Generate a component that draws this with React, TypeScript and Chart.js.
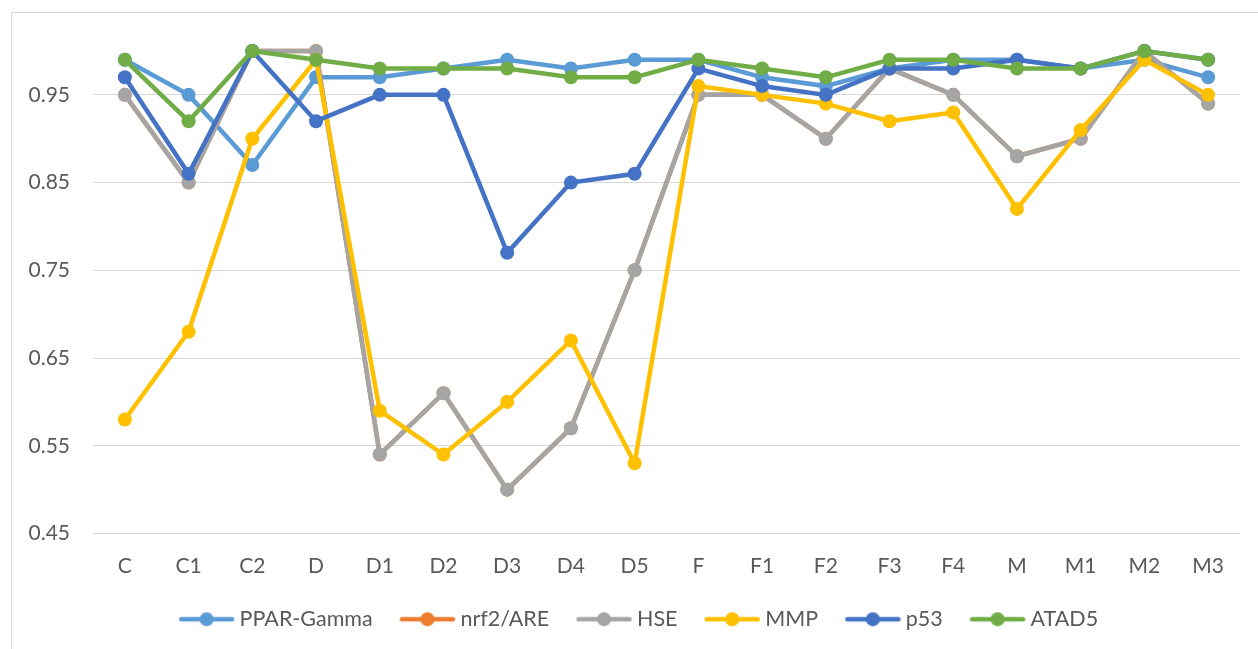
import React, { useEffect, useRef } from "react";
import { Chart, registerables } from "chart.js";

Chart.register(...registerables);

const categories = ["C", "C1", "C2", "D", "D1", "D2", "D3", "D4", "D5", "F", "F1", "F2", "F3", "F4", "M", "M1", "M2", "M3"];
const pparGamma = [0.99, 0.95, 0.87, 0.97, 0.97, 0.98, 0.99, 0.98, 0.99, 0.99, 0.97, 0.96, 0.98, 0.99, 0.99, 0.98, 0.99, 0.97];
const nrf2Are = [0.95, 0.85, 1.0, 1.0, 0.54, 0.61, 0.5, 0.57, 0.75, 0.95, 0.95, 0.9, 0.98, 0.95, 0.88, 0.9, 1.0, 0.94];
const hse = [0.95, 0.85, 1.0, 1.0, 0.54, 0.61, 0.5, 0.57, 0.75, 0.95, 0.95, 0.9, 0.98, 0.95, 0.88, 0.9, 1.0, 0.94];
const mmp = [0.58, 0.68, 0.9, 0.99, 0.59, 0.54, 0.6, 0.67, 0.53, 0.96, 0.95, 0.94, 0.92, 0.93, 0.82, 0.91, 0.99, 0.95];
const p53 = [0.97, 0.86, 1.0, 0.92, 0.95, 0.95, 0.77, 0.85, 0.86, 0.98, 0.96, 0.95, 0.98, 0.98, 0.99, 0.98, 1.0, 0.99];
const atad5 = [0.99, 0.92, 1.0, 0.99, 0.98, 0.98, 0.98, 0.97, 0.97, 0.99, 0.98, 0.97, 0.99, 0.99, 0.98, 0.98, 1.0, 0.99];
const yTicks = [0.45, 0.55, 0.65, 0.75, 0.85, 0.95];

const seriesNames = ["PPAR-Gamma", "nrf2/ARE", "HSE", "MMP", "p53", "ATAD5"];
const seriesValues = [pparGamma, nrf2Are, hse, mmp, p53, atad5];
const seriesColors = ["#5B9BD5", "#ED7D31", "#A5A5A5", "#FFC000", "#4472C4", "#70AD47"];

const FONT = "Lato, 'Open Sans', sans-serif";
const TEXT = "#595959";
const LEGEND_FONT = 21.5;
const LEGEND_BOX = 53;

function makeLegendImage(color: string): HTMLCanvasElement {
  const c = document.createElement("canvas");
  c.width = 66;
  c.height = 16;
  const ctx = c.getContext("2d")!;
  const cx = 33 + (LEGEND_BOX / 2 - (33 - LEGEND_FONT / 2));
  ctx.strokeStyle = color;
  ctx.lineWidth = 4.5;
  ctx.lineCap = "round";
  ctx.beginPath();
  ctx.moveTo(cx - 25.5, 8);
  ctx.lineTo(cx + 25.5, 8);
  ctx.stroke();
  ctx.fillStyle = color;
  ctx.beginPath();
  ctx.arc(cx, 8, 7, 0, Math.PI * 2);
  ctx.fill();
  return c;
}

const legendShift = {
  id: "legendShift",
  afterLayout(chart: any) {
    if (chart.legend) chart.legend.left += 34;
  },
};

export default function App() {
  const ref = useRef<HTMLCanvasElement | null>(null);

  useEffect(() => {
    if (!ref.current) return;
    const images = seriesColors.map(makeLegendImage);
    const datasets = seriesNames.map((name, i) => ({
      label: name,
      data: seriesValues[i],
      borderColor: seriesColors[i],
      backgroundColor: seriesColors[i],
      pointBackgroundColor: seriesColors[i],
      pointBorderColor: seriesColors[i],
      borderWidth: 4.5,
      pointRadius: 7,
      pointBorderWidth: 0,
      pointHoverRadius: 7,
      tension: 0,
      clip: false as any,
      order: seriesNames.length - i,
    }));

    const chart = new Chart(ref.current, {
      type: "line",
      data: { labels: categories, datasets },
      plugins: [legendShift],
      options: {
        animation: false,
        responsive: false,
        maintainAspectRatio: false,
        layout: { padding: { top: 51, right: 18, left: 0, bottom: 9 } },
        plugins: {
          tooltip: { enabled: false },
          legend: {
            position: "bottom",
            labels: {
              usePointStyle: true,
              pointStyleWidth: LEGEND_BOX,
              padding: 24,
              color: TEXT,
              font: { family: FONT, size: LEGEND_FONT },
              generateLabels: (ch: any) =>
                ch.data.datasets.map((ds: any, i: number) => ({
                  text: ds.label,
                  pointStyle: images[i],
                  fillStyle: ds.borderColor,
                  strokeStyle: ds.borderColor,
                  lineWidth: 0,
                  hidden: false,
                  datasetIndex: i,
                  fontColor: TEXT,
                })),
            },
          },
        },
        scales: {
          x: {
            offset: true,
            grid: { display: false, drawTicks: false },
            border: { display: false },
            afterFit: (scale: any) => {
              scale.height = 51;
            },
            ticks: { color: TEXT, font: { family: FONT, size: 21 }, padding: 20, maxRotation: 0, autoSkip: false },
          },
          y: {
            min: 0.45,
            max: 1.0,
            grid: { color: "#D9D9D9", lineWidth: 1, drawTicks: false },
            border: { display: false },
            afterBuildTicks: (scale: any) => {
              scale.ticks = yTicks.map((v) => ({ value: v }));
            },
            afterFit: (scale: any) => {
              scale.width = 93;
            },
            ticks: {
              color: TEXT,
              font: { family: FONT, size: 21 },
              padding: 23,
              callback: (v: any) => Number(v).toFixed(2),
            },
          },
        },
      },
    });
    return () => chart.destroy();
  }, []);

  return (
    <div style={{ position: "absolute", left: 0, top: 0, width: 1258, height: 649, background: "#fff", overflow: "hidden" }}>
      <div
        style={{
          position: "absolute",
          left: 11,
          top: 12,
          width: 1300,
          height: 700,
          border: "1px solid #D9D9D9",
          boxSizing: "border-box",
        }}
      />
      <canvas ref={ref} width={1258} height={649} style={{ position: "absolute", left: 0, top: 0 }} />
    </div>
  );
}
